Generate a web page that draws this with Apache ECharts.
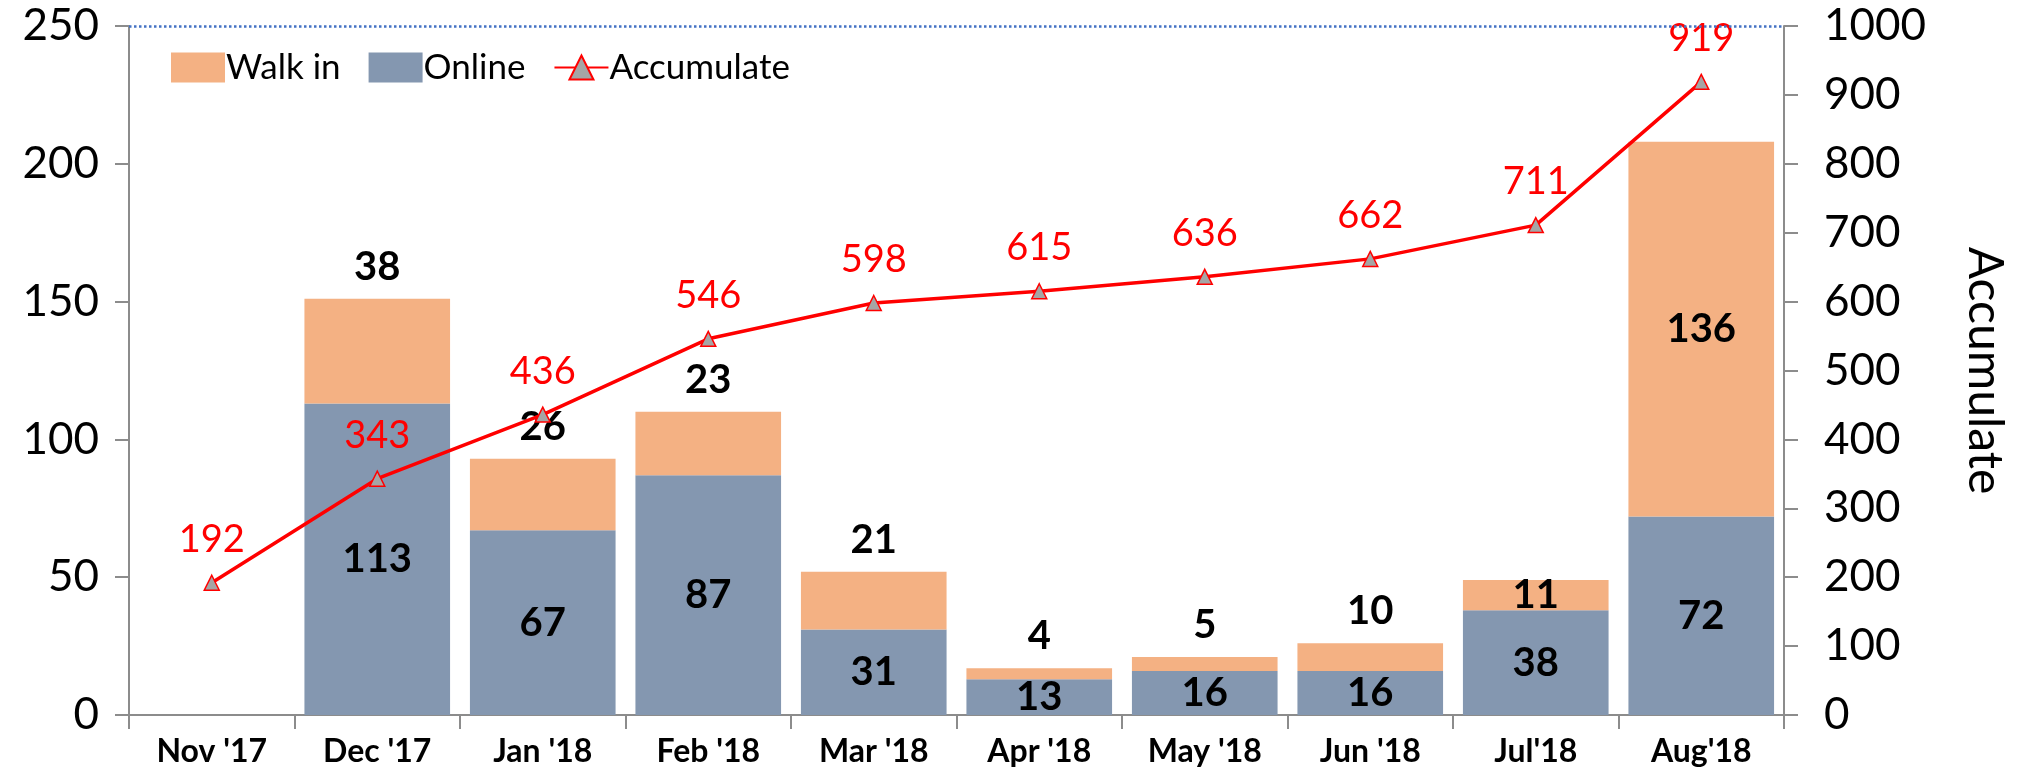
<!DOCTYPE html>
<html>
<head>
<meta charset="utf-8">
<script src="https://cdn.jsdelivr.net/npm/echarts@6/dist/echarts.min.js"></script>
<style>
  html, body { margin: 0; padding: 0; background: #fff; }
  #container { width: 2020px; height: 781px; }
</style>
</head>
<body>
<div id="container"></div>
<script>
// 月份
var months = ["Nov '17", "Dec '17", "Jan '18", "Feb '18", "Mar '18", "Apr '18", "May '18", "Jun '18", "Jul'18", "Aug'18"];
// 线上 / 到店 / 累计
var online = [null, 113, 67, 87, 31, 13, 16, 16, 38, 72];
var walkIn = [null, 38, 26, 23, 21, 4, 5, 10, 11, 136];
var accumulate = [192, 343, 436, 546, 598, 615, 636, 662, 711, 919];
var leftTicks = [0, 250, 50];     // min, max, interval
var rightTicks = [0, 1000, 100];

var font = 'Lato, "Open Sans", sans-serif';

// walk in 标签: 最后两个放里面, 其它放顶上
var walkInData = walkIn.map(function (v, i) {
  var inside = (v != null && i >= 8);
  return {
    value: v,
    label: inside ? { position: 'inside' } : { position: 'top', distance: 12 }
  };
});

var myChart = echarts.init(document.getElementById('container'));
var option = {
  animation: false,
  grid: { left: 129, right: 236, top: 26, bottom: 66 },
  legend: {
    left: 166, top: 45,
    itemWidth: 54, itemHeight: 30, itemGap: 28,
    textStyle: { fontFamily: font, fontSize: 35, color: '#000', padding: [0, 0, 0, -4] },
    data: [
      { name: 'Walk in', icon: 'rect' },
      { name: 'Online', icon: 'rect' },
      { name: 'Accumulate' }
    ]
  },
  xAxis: {
    type: 'category',
    data: months,
    axisLine: { lineStyle: { color: '#8c8c8c', width: 2 } },
    axisTick: { show: true, length: 14, lineStyle: { color: '#8c8c8c', width: 2 } },
    axisLabel: { fontFamily: font, fontWeight: 'bold', fontSize: 32, color: '#000', margin: 21 }
  },
  yAxis: [
    {
      type: 'value', min: leftTicks[0], max: leftTicks[1], interval: leftTicks[2],
      axisLine: { show: true, lineStyle: { color: '#8c8c8c', width: 2 } },
      axisTick: { show: true, length: 14, lineStyle: { color: '#8c8c8c', width: 2 } },
      splitLine: { show: false },
      axisLabel: { fontFamily: font, fontSize: 44, color: '#000', margin: 30 }
    },
    {
      type: 'value', min: rightTicks[0], max: rightTicks[1], interval: rightTicks[2],
      name: 'Accumulate', nameLocation: 'middle', nameRotate: -90, nameGap: 176,
      nameTextStyle: { fontFamily: font, fontSize: 48, color: '#000' },
      axisLine: { show: true, lineStyle: { color: '#8c8c8c', width: 2 } },
      axisTick: { show: true, length: 14, lineStyle: { color: '#8c8c8c', width: 2 } },
      splitLine: { show: false },
      axisLabel: {
        fontFamily: font, fontSize: 44, color: '#000', margin: 40,
        formatter: function (v) { return String(v); }
      }
    }
  ],
  series: [
    {
      name: 'Online', type: 'bar', stack: 'total', barWidth: '88%',
      itemStyle: { color: '#8497b0' },
      label: { show: true, position: 'inside', fontFamily: font, fontWeight: 'bold', fontSize: 40, color: '#000' },
      data: online,
      markLine: {
        silent: true, symbol: 'none', label: { show: false },
        lineStyle: { color: '#4472c4', type: 'dotted', width: 2.5 },
        data: [{ yAxis: leftTicks[1] }]
      }
    },
    {
      name: 'Walk in', type: 'bar', stack: 'total', barWidth: '88%',
      itemStyle: { color: '#f4b183' },
      label: { show: true, fontFamily: font, fontWeight: 'bold', fontSize: 40, color: '#000' },
      data: walkInData
    },
    {
      name: 'Accumulate', type: 'line', yAxisIndex: 1,
      symbol: 'triangle', symbolSize: 15,
      itemStyle: { color: '#a5a5a5', borderColor: '#ff0000', borderWidth: 1.5 },
      lineStyle: { color: '#ff0000', width: 3.5 },
      label: { show: true, position: 'top', distance: 16, fontFamily: font, fontSize: 38, color: '#ff0000' },
      data: accumulate
    }
  ]
};
myChart.setOption(option);
</script>
</body>
</html>
